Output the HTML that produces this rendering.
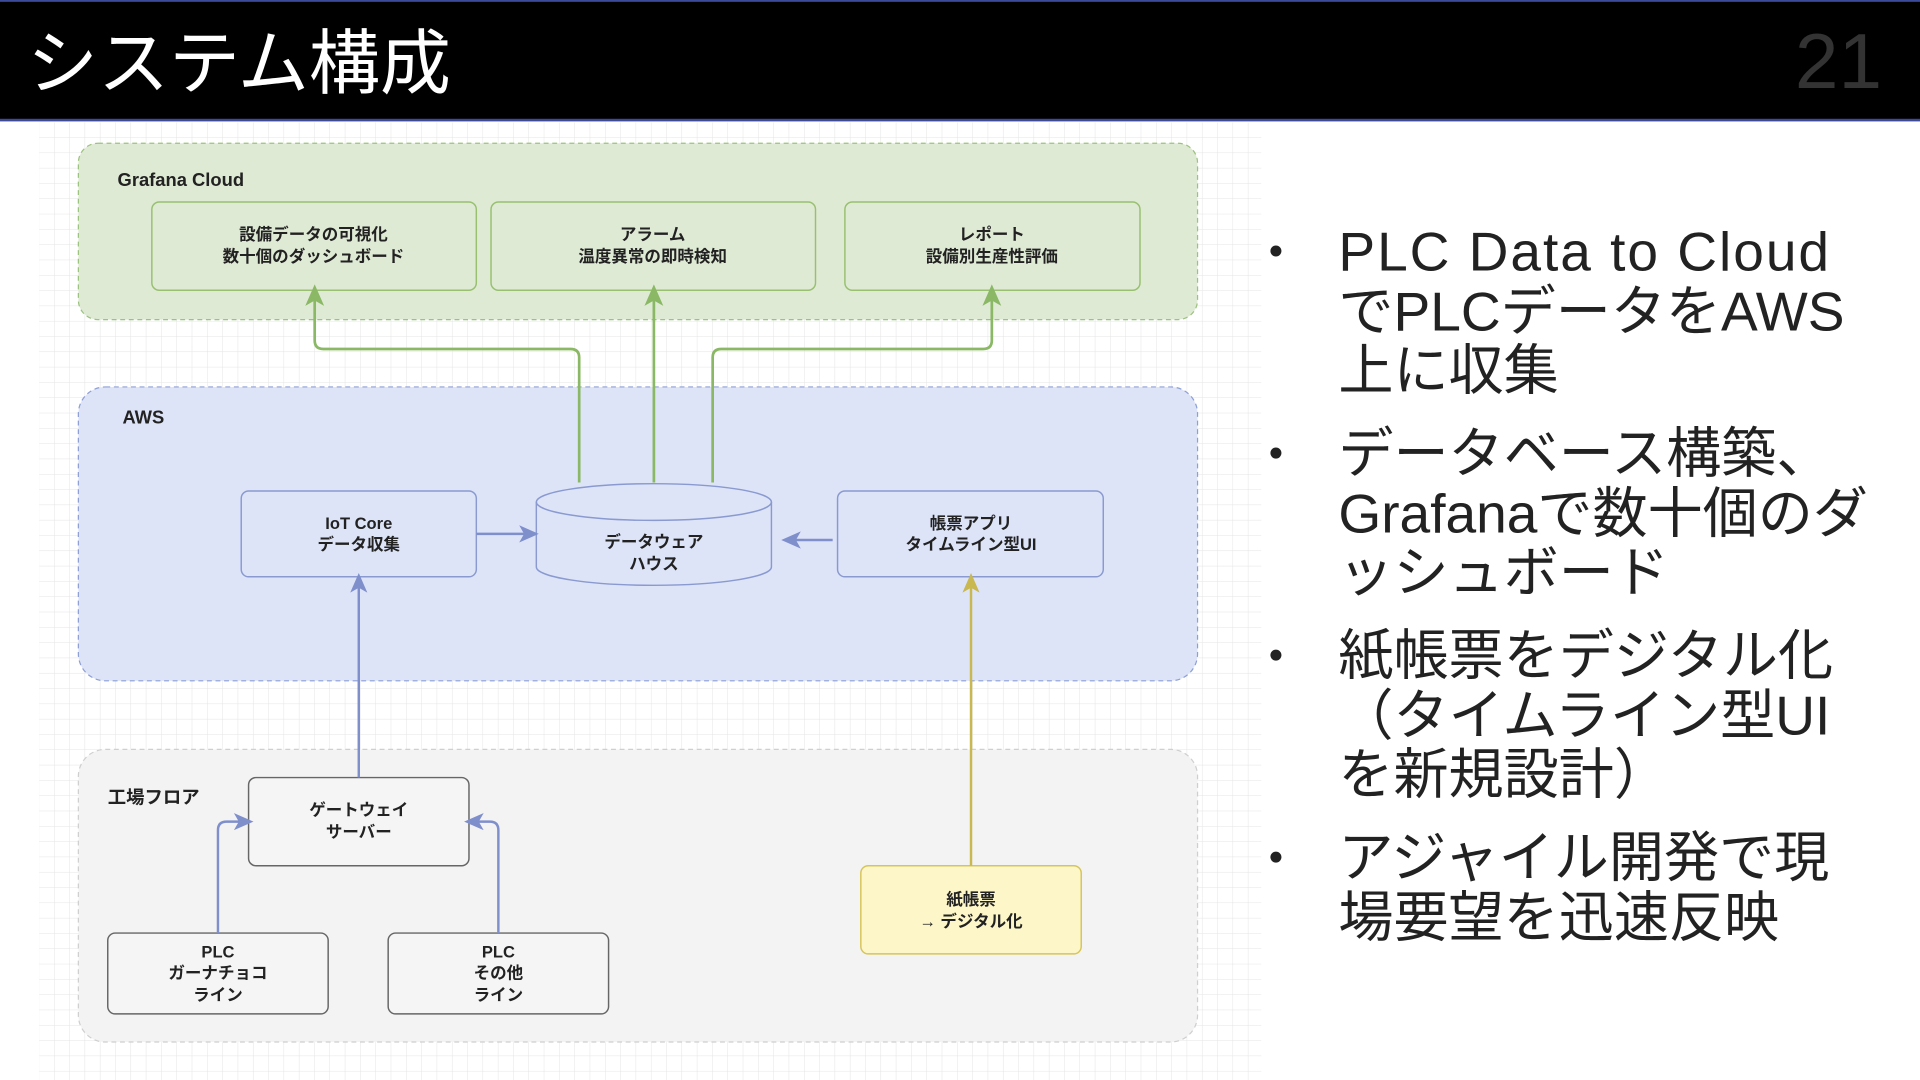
<!DOCTYPE html>
<html><head><meta charset="utf-8"><style>
html,body{margin:0;padding:0;width:1920px;height:1080px;overflow:hidden;background:#fff}
svg{display:block}
.j{font-family:"Liberation Sans","Noto Sans CJK JP",sans-serif}
.b{font-weight:700;font-size:13px;fill:#222}
</style></head><body>
<svg width="1920" height="1080" viewBox="0 0 1568 882" xmlns="http://www.w3.org/2000/svg" class="j">
<defs>
<pattern id="g" width="12.5" height="12.5" patternUnits="userSpaceOnUse" x="32" y="100">
<path d="M12.5 0V12.5H0" fill="none" stroke="#e4e4e4" stroke-width="0.8"/></pattern>
<marker id="ag" markerWidth="8" markerHeight="8" refX="4" refY="4" orient="auto"><path d="M0,0.5L8,4L0,7.5L2,4Z" fill="#8ab865"/></marker>
<marker id="ab" markerWidth="8" markerHeight="8" refX="4" refY="4" orient="auto"><path d="M0,0.5L8,4L0,7.5L2,4Z" fill="#7f8fcc"/></marker>
<marker id="ay" markerWidth="8" markerHeight="8" refX="4" refY="4" orient="auto"><path d="M0,0.5L8,4L0,7.5L2,4Z" fill="#c9b750"/></marker>
</defs>
<rect width="1568" height="882" fill="#fff"/>
<rect x="32" y="100" width="998" height="782" fill="url(#g)"/>
<!-- title -->
<rect x="0" y="0" width="1568" height="99" fill="#000"/>
<rect x="0" y="97" width="1568" height="2" fill="#3c4a9a"/>
<rect x="0" y="0" width="1568" height="1.5" fill="#3c4a9a"/>
<text x="22" y="72" font-size="58" fill="#fff">システム構成</text>
<text x="1537" y="72" font-size="64" fill="#333" text-anchor="end">21</text>

<!-- Grafana -->
<rect x="64" y="117" width="914" height="144" rx="16" fill="#dfead5" stroke="#9cc27f" stroke-dasharray="4 3"/>
<text x="96" y="152" class="b" style="font-size:15px">Grafana Cloud</text>
<g fill="#dfead5" stroke="#98c070" stroke-width="1.2">
<rect x="124" y="165" width="265" height="72" rx="6"/>
<rect x="401" y="165" width="265" height="72" rx="6"/>
<rect x="690" y="165" width="241" height="72" rx="6"/>
</g>
<g class="b" text-anchor="middle" style="font-size:13.5px">
<text x="256" y="196">設備データの可視化</text><text x="256" y="214">数十個のダッシュボード</text>
<text x="533" y="196">アラーム</text><text x="533" y="214">温度異常の即時検知</text>
<text x="810" y="196">レポート</text><text x="810" y="214">設備別生産性評価</text>
</g>

<!-- AWS -->
<rect x="64" y="316" width="914" height="240" rx="22" fill="#dde4f8" stroke="#8e9fd6" stroke-dasharray="4 3"/>
<text x="100" y="346" class="b" style="font-size:15px">AWS</text>
<g fill="#dde4f8" stroke="#8a9ad0" stroke-width="1.2">
<rect x="197" y="401" width="192" height="70" rx="6"/>
<rect x="684" y="401" width="217" height="70" rx="6"/>
<path d="M438,410 A96,15 0 0 1 630,410 V463 A96,15 0 0 1 438,463 Z"/>
<path d="M438,410 A96,15 0 0 0 630,410" fill="none"/>
</g>
<g class="b" text-anchor="middle" style="font-size:13.5px">
<text x="293" y="432">IoT Core</text><text x="293" y="449">データ収集</text>
<text x="534" y="447">データウェア</text><text x="534" y="465">ハウス</text>
<text x="793" y="432">帳票アプリ</text><text x="793" y="449">タイムライン型UI</text>
</g>

<!-- Factory -->
<rect x="64" y="612" width="914" height="239" rx="22" fill="#f3f3f3" stroke="#cfcfcf" stroke-dasharray="4 3"/>
<text x="88" y="656" class="b" style="font-size:15px">工場フロア</text>
<g fill="#f5f5f5" stroke="#666" stroke-width="1.2">
<rect x="203" y="635" width="180" height="72" rx="6"/>
<rect x="88" y="762" width="180" height="66" rx="6"/>
<rect x="317" y="762" width="180" height="66" rx="6"/>
</g>
<rect x="703" y="707" width="180" height="72" rx="6" fill="#fcf6c8" stroke="#d6c55a" stroke-width="1.2"/>
<g class="b" text-anchor="middle" style="font-size:13.5px">
<text x="293" y="666">ゲートウェイ</text><text x="293" y="684">サーバー</text>
<text x="178" y="782">PLC</text><text x="178" y="799">ガーナチョコ</text><text x="178" y="817">ライン</text>
<text x="407" y="782">PLC</text><text x="407" y="799">その他</text><text x="407" y="817">ライン</text>
<text x="793" y="739">紙帳票</text><text x="793" y="757">→ デジタル化</text>
</g>

<!-- connectors -->
<g fill="none" stroke="#8ab865" stroke-width="2.2">
<path d="M473,394 V292 Q473,285 466,285 H264 Q257,285 257,278 V241" marker-end="url(#ag)"/>
<path d="M534,394 V241" marker-end="url(#ag)"/>
<path d="M582,394 V292 Q582,285 589,285 H803 Q810,285 810,278 V241" marker-end="url(#ag)"/>
</g>
<g fill="none" stroke="#7f8fcc" stroke-width="2">
<path d="M389,436 H432" marker-end="url(#ab)"/>
<path d="M680,441 H646" marker-end="url(#ab)"/>
<path d="M293,635 V476" marker-end="url(#ab)"/>
<path d="M178,762 V678 Q178,671 185,671 H199" marker-end="url(#ab)"/>
<path d="M407,762 V678 Q407,671 400,671 H387" marker-end="url(#ab)"/>
</g>
<path d="M793,707 V476" fill="none" stroke="#c9b750" stroke-width="2" marker-end="url(#ay)"/>

<!-- bullets -->
<g font-size="45" fill="#222">
<circle cx="1042" cy="205" r="4.5"/><circle cx="1042" cy="370" r="4.5"/><circle cx="1042" cy="535" r="4.5"/><circle cx="1042" cy="700" r="4.5"/>
<text x="1093" y="221" letter-spacing="1.6">PLC Data to Cloud</text>
<text x="1093" y="270">でPLCデータをAWS</text>
<text x="1093" y="318">上に収集</text>
<text x="1093" y="386">データベース構築、</text>
<text x="1093" y="435">Grafanaで数十個のダ</text>
<text x="1093" y="483">ッシュボード</text>
<text x="1093" y="551">紙帳票をデジタル化</text>
<text x="1093" y="600">（タイムライン型UI</text>
<text x="1093" y="648">を新規設計）</text>
<text x="1093" y="716">アジャイル開発で現</text>
<text x="1093" y="765">場要望を迅速反映</text>
</g>
</svg>
</body></html>
